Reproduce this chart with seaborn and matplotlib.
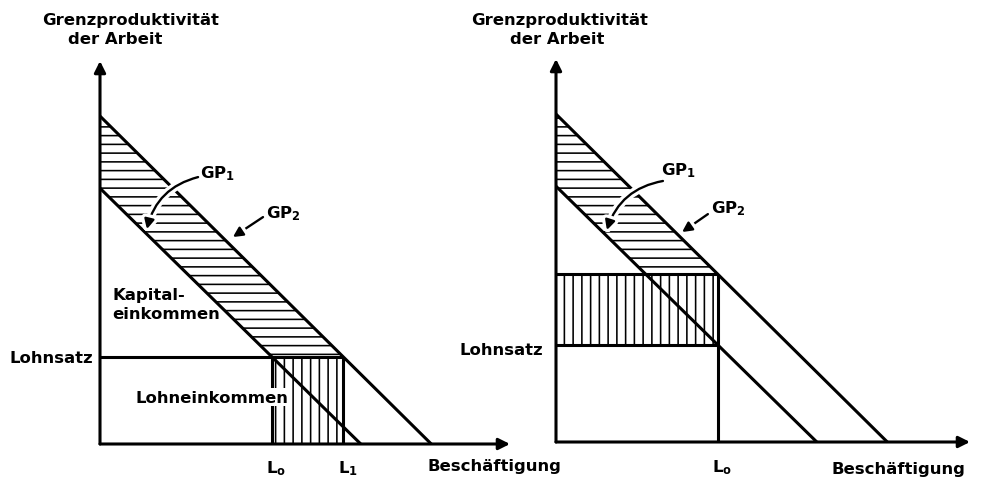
import numpy as np
import pandas as pd
import matplotlib
matplotlib.use("Agg")
import matplotlib.pyplot as plt
import matplotlib.patheffects as pe
import seaborn as sns

# ---------------- data (model units) ----------------
curve_names = ["GP1", "GP2"]
curve_y_intercepts = [7.8, 10.0]     # marginal product of labour at zero employment
curve_x_intercepts = [7.95, 10.1]    # employment where marginal product reaches zero
wage_left = 2.65                     # Lohnsatz in the left diagram
employment_right = 4.94              # L0 in the right diagram
axis_x_max = [12.5, 12.62]
axis_y_max = [11.68, 11.68]

title_lines = ["Grenzproduktivität", "der Arbeit"]
x_label = "Beschäftigung"
wage_label = "Lohnsatz"

# ---------------- style ----------------
DPI = 105
W, H = 985, 481
LW = 2.1
FS = 11.3

sns.set_theme(style="white")
plt.rcParams["font.family"] = ["DejaVu Sans"]
plt.rcParams["font.weight"] = "bold"
plt.rcParams["text.color"] = "black"
plt.rcParams["mathtext.fontset"] = "custom"
plt.rcParams["mathtext.rm"] = "DejaVu Sans:bold"
plt.rcParams["mathtext.it"] = "DejaVu Sans:bold"
plt.rcParams["mathtext.bf"] = "DejaVu Sans:bold"
plt.rcParams["mathtext.default"] = "rm"
plt.rcParams["hatch.linewidth"] = 1.1
plt.rcParams["hatch.color"] = "black"

fig = plt.figure(figsize=(W / DPI, H / DPI), dpi=DPI)
fig.patch.set_facecolor("white")


def px_axes(x0, y0, w, h):
    return fig.add_axes([x0 / W, (H - y0) / H, w / W, h / H])


axL = px_axes(100, 445, 410, 383)
axR = px_axes(556, 443, 414, 383)

a1, a2 = curve_y_intercepts
b1, b2 = curve_x_intercepts


def gp(k, x):
    return curve_y_intercepts[k] * (1 - x / curve_x_intercepts[k])


def gp_inv(k, y):
    return curve_x_intercepts[k] * (1 - y / curve_y_intercepts[k])


curves = pd.DataFrame({
    "x": [0, b1, 0, b2],
    "y": [a1, 0, a2, 0],
    "curve": [curve_names[0]] * 2 + [curve_names[1]] * 2,
})


def base(ax, i):
    sns.lineplot(data=curves, x="x", y="y", units="curve", estimator=None,
                 color="black", lw=LW, ax=ax, legend=False, zorder=2)
    for ln in ax.lines:
        ln.set_clip_on(False)
        ln.set_solid_capstyle("butt")
    ax.set_xlim(0, axis_x_max[i])
    ax.set_ylim(0, axis_y_max[i])
    ax.set_xlabel("")
    ax.set_ylabel("")
    ax.set_axis_off()
    ap = dict(arrowstyle="-|>", color="black", lw=LW, mutation_scale=16,
              shrinkA=0, shrinkB=0)
    ax.annotate("", xy=(axis_x_max[i], 0), xytext=(0, 0), arrowprops=ap,
                annotation_clip=False, zorder=3)
    ax.annotate("", xy=(0, axis_y_max[i]), xytext=(0, 0), arrowprops=ap,
                annotation_clip=False, zorder=3)


def seg(ax, xs, ys):
    ax.plot(xs, ys, color="black", lw=LW, clip_on=False, zorder=2,
            solid_capstyle="butt")


def label_arrow(ax, text, text_xy, start, tip, rad):
    ax.text(text_xy[0], text_xy[1], text, ha="center", va="center",
            fontsize=FS, zorder=6)
    ann = ax.annotate("", xy=tip, xytext=start,
                      arrowprops=dict(arrowstyle="-|>", color="black", lw=1.6,
                                      mutation_scale=14, shrinkA=0, shrinkB=0,
                                      connectionstyle=f"arc3,rad={rad}"),
                      annotation_clip=False, zorder=5)
    ann.arrow_patch.set_path_effects([pe.withStroke(linewidth=6, foreground="white")])


# ---------------- left diagram ----------------
base(axL, 0)
L0 = gp_inv(0, wage_left)
L1 = gp_inv(1, wage_left)
axL.fill([0, L1, L0, 0], [a2, wage_left, wage_left, a1], facecolor="none",
         edgecolor="black", hatch="--", lw=0, zorder=1)
axL.fill([L0, L1, L1, L0], [0, 0, wage_left, wage_left], facecolor="none",
         edgecolor="black", hatch="||", lw=0, zorder=1)
seg(axL, [0, L1], [wage_left, wage_left])
seg(axL, [L0, L0], [0, wage_left])
seg(axL, [L1, L1], [0, wage_left])

axL.text(0.37, 4.27, "Kapital-\neinkommen", ha="left", va="center",
         fontsize=FS, linespacing=1.35, zorder=6)
axL.text(3.41, 1.43, "Lohneinkommen", ha="center", va="center", fontsize=FS,
         zorder=6, bbox=dict(facecolor="white", edgecolor="none", pad=1.0))
label_arrow(axL, r"GP$_1$", (3.57, 8.29), (2.99, 8.14), (1.43, 6.55), 0.3)
label_arrow(axL, r"GP$_2$", (5.58, 7.07), (4.97, 6.92), (4.05, 6.31), 0.0)

axL.annotate(wage_label, xy=(0, wage_left), xytext=(-5, 0),
             textcoords="offset points", ha="right", va="center", fontsize=FS)
axL.annotate(r"L$_o$", xy=(L0, 0), xytext=(-4, -16), textcoords="offset points",
             ha="left", va="center", fontsize=FS, annotation_clip=False)
axL.annotate(r"L$_1$", xy=(L1, 0), xytext=(-4, -16), textcoords="offset points",
             ha="left", va="center", fontsize=FS, annotation_clip=False)
axL.annotate(x_label, xy=(9.97, 0), xytext=(0, -15), textcoords="offset points",
             ha="left", va="center", fontsize=FS, annotation_clip=False)

# ---------------- right diagram ----------------
base(axR, 1)
w_low = gp(0, employment_right)
w_high = gp(1, employment_right)
x_g1_high = gp_inv(0, w_high)
axR.fill([0, employment_right, x_g1_high, 0], [a2, w_high, w_high, a1],
         facecolor="none", edgecolor="black", hatch="--", lw=0, zorder=1)
axR.fill([0, employment_right, employment_right, 0], [w_low, w_low, w_high, w_high],
         facecolor="none", edgecolor="black", hatch="||", lw=0, zorder=1)
seg(axR, [0, employment_right], [w_high, w_high])
seg(axR, [0, employment_right], [w_low, w_low])
seg(axR, [employment_right, employment_right], [0, w_high])

label_arrow(axR, r"GP$_1$", (3.75, 8.32), (3.26, 7.96), (1.55, 6.46), 0.3)
label_arrow(axR, r"GP$_2$", (5.27, 7.16), (4.63, 6.95), (3.84, 6.40), 0.0)

axR.annotate(wage_label, xy=(0, w_low), xytext=(-9, -3),
             textcoords="offset points", ha="right", va="center", fontsize=FS)
axR.annotate(r"L$_o$", xy=(employment_right, 0), xytext=(-4, -17),
             textcoords="offset points", ha="left", va="center", fontsize=FS,
             annotation_clip=False)
axR.annotate(x_label, xy=(8.41, 0), xytext=(0, -18), textcoords="offset points",
             ha="left", va="center", fontsize=FS, annotation_clip=False)

# ---------------- axis titles ----------------
for cx1, cx2 in [(131, 115), (560, 557)]:
    fig.text(cx1 / W, 1 - 20 / H, title_lines[0], ha="center", va="center", fontsize=FS)
    fig.text(cx2 / W, 1 - 40 / H, title_lines[1], ha="center", va="center", fontsize=FS)

fig.savefig("out.png", dpi=DPI, facecolor="white")
